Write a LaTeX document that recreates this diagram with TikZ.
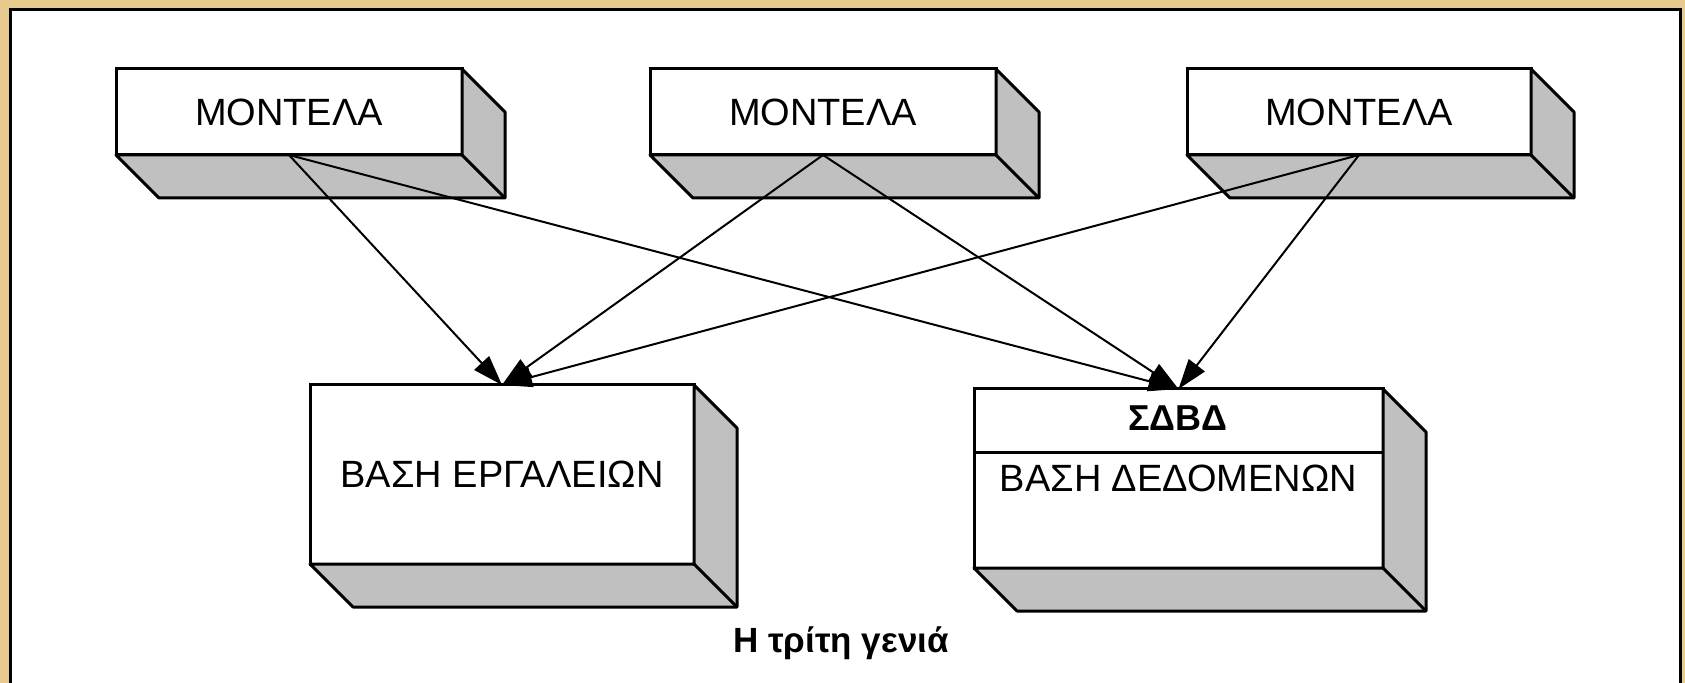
\documentclass[tikz,border=0pt]{standalone}
\usepackage{fontspec}
\setmainfont{Liberation Sans}
\usetikzlibrary{arrows.meta,calc}

\definecolor{frametan}{RGB}{230,202,142}
\definecolor{sidegray}{RGB}{192,192,192}

% gray bottom and right faces behind a front box
\newcommand{\boxsides}[1]{%
  \filldraw[sideface] (#1.south west) -- ++(21.5pt,-21.5pt)
    -- ($(#1.south east)+(21.5pt,-21.5pt)$)
    -- ($(#1.north east)+(21.5pt,-21.5pt)$)
    -- (#1.north east) -- (#1.south east) -- cycle;
  \draw[sideface] (#1.south east) -- ++(21.5pt,-21.5pt);}

\begin{document}
\begin{tikzpicture}[x=0.5pt,y=-0.5pt,
  frontbox/.style={draw,fill=white,line width=1.5pt,outer sep=0pt,
    font=\fontsize{19pt}{21pt}\selectfont},
  sideface/.style={fill=sidegray,draw,line width=1.5pt,line join=round},
  arrowline/.style={-{Triangle[length=15pt,width=10pt]},line width=1pt}]
\useasboundingbox (0,0) rectangle (1685,683);
\fill[frametan] (0,0) rectangle (1685,683);
\filldraw[fill=white,line width=1.5pt] (10,700) -- (10,10) -- (1680,10) -- (1680,700);

% models
\node[frontbox,minimum width=173pt,minimum height=43pt] (m1) at (289,112)  {ΜΟΝΤΕΛΑ};
\node[frontbox,minimum width=173pt,minimum height=43pt] (m2) at (823,112)  {ΜΟΝΤΕΛΑ};
\node[frontbox,minimum width=172pt,minimum height=43pt] (m3) at (1359,112) {ΜΟΝΤΕΛΑ};
\boxsides{m1} \boxsides{m2} \boxsides{m3}

% bases
\node[frontbox,minimum width=192pt,minimum height=89.5pt] (tools) at (502,474.5) {ΒΑΣΗ ΕΡΓΑΛΕΙΩΝ};
\node[frontbox,minimum width=204.5pt,minimum height=89.5pt] (dbms) at (1178.5,478.5) {ΒΑΣΗ ΔΕΔΟΜΕΝΩΝ};
\boxsides{tools} \boxsides{dbms}
\draw[line width=1.5pt] ([yshift=-32pt]dbms.north west) -- ([yshift=-32pt]dbms.north east);
\node[font=\bfseries\fontsize{18pt}{20pt}\selectfont] (dbmstitle) at (1178,418) {ΣΔΒΔ};

\path[arrowline]
(m1.south) edge (tools.north)
(m1.south) edge (dbms.north)
(m2.south) edge (tools.north)
(m2.south) edge (dbms.north)
(m3.south) edge (tools.north)
(m3.south) edge (dbms.north)
;

\node[font=\bfseries\fontsize{17.5pt}{19pt}\selectfont] (caption) at (841,643) {Η τρίτη γενιά};
\end{tikzpicture}
\end{document}
